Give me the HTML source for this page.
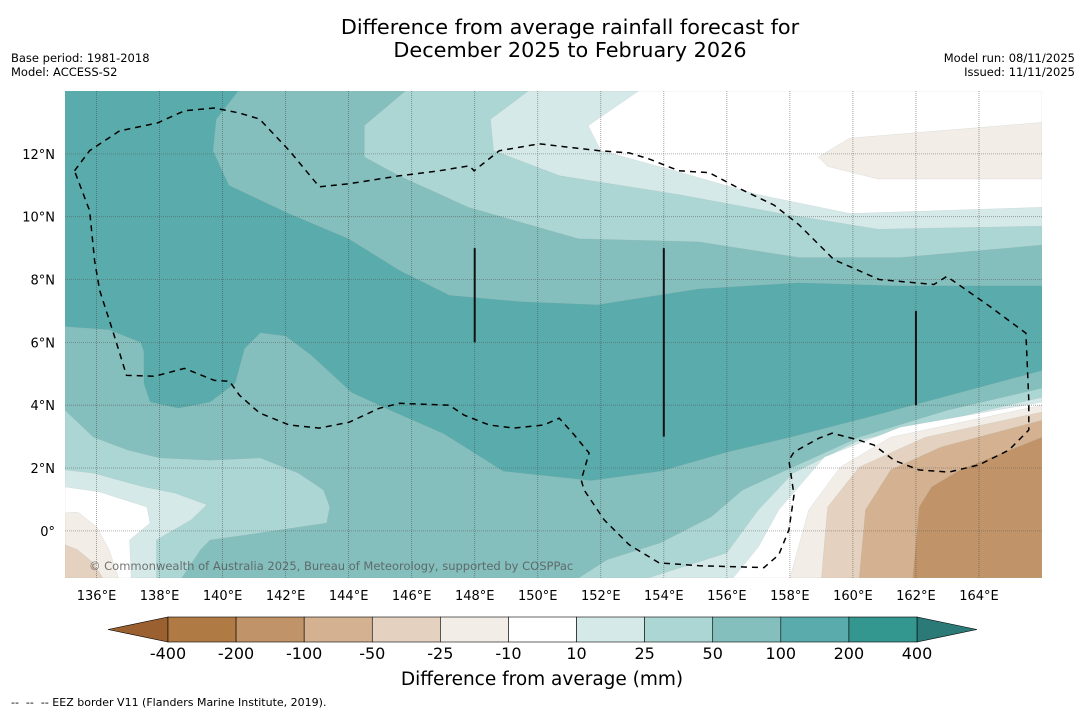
<!DOCTYPE html>
<html><head><meta charset="utf-8"><style>
body{margin:0;background:#fff;width:1085px;height:713px;overflow:hidden;font-family:"Liberation Sans","DejaVu Sans",sans-serif}
svg text{font-family:"DejaVu Sans","Liberation Sans",sans-serif}
</style></head><body>
<svg id="chart" width="1085" height="713" viewBox="0 0 1085 713" xmlns="http://www.w3.org/2000/svg">
<text x="570" y="34" font-size="20.8" text-anchor="middle">Difference from average rainfall forecast for</text>
<text x="570" y="57" font-size="20.8" text-anchor="middle">December 2025 to February 2026</text>
<text x="11" y="62" font-size="11.5">Base period: 1981-2018</text>
<text x="11" y="76" font-size="11.5">Model: ACCESS-S2</text>
<text x="1075" y="62" font-size="11.5" text-anchor="end">Model run: 08/11/2025</text>
<text x="1075" y="76" font-size="11.5" text-anchor="end">Issued: 11/11/2025</text>
<defs><clipPath id="mapclip"><rect x="65" y="91" width="977" height="487"/></clipPath></defs>
<g id="map" clip-path="url(#mapclip)"></g>
<g id="axes"></g>
<g id="cbar"></g>
<text x="542" y="685" font-size="18.5" text-anchor="middle">Difference from average (mm)</text>
<text x="11" y="706" font-size="11" xml:space="preserve">--  --  -- EEZ border V11 (Flanders Marine Institute, 2019).</text>
</svg>
<script>
// Map extent & colour levels
const lonRange=[135,166];
const latRange=[-1.5,14];
const levels=["-400","-200","-100","-50","-25","-10","10","25","50","100","200","400"];
const bandColors=["#b07a45","#c09468","#d4b291","#e5d1bf","#f2ede6","#ffffff","#d5e9e8","#acd6d4","#84bfbd","#5aabab","#33968f"];
const lonTicks=[136,138,140,142,144,146,148,150,152,154,156,158,160,162,164];
const latTicks=[0,2,4,6,8,10,12];
// Contour regions (lon,lat) with band index, painted in order
const baseBand=9;
const regionBands=[8,7,6,5,4,8,7,6,5,4,3,7,6,5,4,3,2,1];
const regionShapes=[
[[140.5,14],[139.8,13.1],[139.7,12.1],[140.2,11],[142.1,10.1],[144,9.3],[145.6,8.3],[147.2,7.5],[149.4,7.3],[151.9,7.2],[155.1,7.7],[158.3,7.9],[161.5,7.8],[166,7.8],[166,14]],
[[145.8,14],[144.5,12.9],[144.5,11.9],[145.6,11.3],[147.8,10.3],[151.3,9.3],[155.1,9.2],[158.3,8.7],[161.5,8.7],[166,9.1],[166,14]],
[[149.7,14],[148.5,13.1],[148.6,12.1],[150.7,11.3],[154.5,10.7],[157.7,10.1],[160.8,9.6],[166,9.7],[166,14]],
[[153.2,14],[151.6,12.9],[152,12.1],[154.2,11.5],[157,10.7],[159.9,10.1],[166,10.3],[166,14]],
[[158.9,11.9],[159.9,12.5],[166,13],[166,11.2],[160.8,11.2],[159.2,11.6]],
[[135,6.5],[136.4,6.4],[137.4,6.0],[137.5,5.7],[137.5,4.7],[137.7,4.1],[138.6,3.9],[139.6,4.1],[140.4,4.7],[140.7,5.8],[141.2,6.3],[142,6.2],[142.8,5.6],[144.1,4.4],[145.4,3.8],[147,3.1],[147.8,2.6],[148.9,1.9],[151.7,1.6],[153.9,1.9],[156,2.5],[158.1,3.0],[160.8,3.7],[166,5.1],[166,-1.5],[135,-1.5]],
[[135,3.84],[135.9,2.98],[137,2.57],[138,2.32],[139.6,2.25],[141.2,2.32],[142.4,1.84],[143.2,1.3],[143.4,0.76],[143.3,0.25],[141.2,-0.06],[139.6,-0.29],[139.3,-0.6],[138.7,-1.5],[135,-1.5]],
[[135,1.94],[135.9,1.84],[137.5,1.4],[138.5,1.2],[139.5,0.83],[139,0.35],[137.9,-0.29],[137.9,-1.5],[135,-1.5]],
[[135,1.4],[136.1,1.24],[137.6,0.76],[137.7,0.25],[137.05,-0.29],[137.1,-1.5],[135,-1.5]],
[[135,0.57],[135.4,0.6],[136,0.13],[136.4,-0.6],[136.7,-1.5],[135,-1.5]],
[[135,-0.44],[135.4,-0.6],[135.9,-1.02],[136.2,-1.5],[135,-1.5]],
[[151.3,-1.5],[152.2,-0.92],[153.9,-0.38],[155.5,0.44],[156.5,1.3],[158.1,2.03],[160.2,2.98],[163,3.84],[166,4.54],[166,-1.5]],
[[153.5,-1.5],[156,-0.7],[157,0.67],[158.1,1.84],[160.2,2.89],[166,4.25],[166,-1.5]],
[[156.2,-1.5],[157,-0.51],[157.65,0.67],[159.1,2.35],[161.5,3.3],[166,4.1],[166,-1.5]],
[[158,-1.5],[158.6,0.67],[159.6,2.03],[161.2,2.98],[166,4.0],[166,-1.5]],
[[159,-1.5],[159.2,0.76],[160.2,2.03],[162.3,2.98],[166,3.78],[166,-1.5]],
[[160.2,-1.5],[160.4,0.67],[161.2,1.94],[162.8,2.67],[166,3.52],[166,-1.5]],
[[161.9,-1.5],[162.1,0.76],[162.5,1.4],[163.4,1.94],[166,2.98],[166,-1.5]]
];
const eezLine=[[135.3,11.46],[135.78,12.1],[136.73,12.73],[137.93,12.98],[138.79,13.37],[139.74,13.46],[140.53,13.3],[141.17,13.11],[142.12,12.1],[143.07,10.95],[144.02,11.05],[145.61,11.3],[146.87,11.46],[147.83,11.62],[147.98,11.46],[148.78,12.1],[150.05,12.32],[151.16,12.19],[151.95,12.1],[152.9,12.03],[153.53,11.84],[154.48,11.46],[155.44,11.4],[156.39,10.9],[157.5,10.37],[158.29,9.74],[159.4,8.63],[160.83,8.0],[162.57,7.84],[162.98,8.1],[164.31,7.17],[165.49,6.29],[165.58,4.16],[165.58,3.21],[164.95,2.57],[164.0,2.1],[163.04,1.87],[162.09,1.94],[161.3,2.25],[160.67,2.73],[160.19,2.89],[159.34,3.11],[158.92,2.95],[158.13,2.51],[157.97,2.25],[158.13,1.14],[157.97,0.03],[157.65,-0.76],[157.18,-1.17],[155.12,-1.11],[153.85,-1.02],[152.9,-0.44],[152.11,0.35],[151.47,1.3],[151.38,1.62],[151.63,2.48],[151.47,2.67],[151.16,3.05],[150.68,3.59],[150.2,3.37],[149.25,3.27],[148.46,3.37],[147.67,3.68],[147.19,4.0],[145.61,4.06],[144.97,3.9],[144.02,3.46],[143.07,3.27],[142.12,3.37],[141.17,3.75],[140.53,4.32],[140.22,4.76],[139.74,4.79],[138.79,5.17],[137.84,4.92],[136.95,4.95],[136.51,6.38],[136.1,7.65],[135.94,8.6],[135.78,10.19],[135.3,11.46]];
const boundarySegments=[[148,9,6],[154,9,3],[162,7,4]];

const NS="http://www.w3.org/2000/svg";
const X0=65,X1=1042,Y0=91,Y1=578;
function xs(lon){return X0+(lon-lonRange[0])/(lonRange[1]-lonRange[0])*(X1-X0);}
function ys(lat){return Y1-(lat-latRange[0])/(latRange[1]-latRange[0])*(Y1-Y0);}
function el(t,a,p){const e=document.createElementNS(NS,t);for(const k in a)e.setAttribute(k,a[k]);p.appendChild(e);return e;}
const map=document.getElementById('map');
const bg=el('rect',{x:X0,y:Y0,width:X1-X0,height:Y1-Y0,fill:bandColors[baseBand]},map);


regionShapes.forEach((s,i)=>{
  const p=el('polygon',{points:s.map(q=>xs(q[0]).toFixed(1)+','+ys(q[1]).toFixed(1)).join(' '),fill:bandColors[regionBands[i]],stroke:'#9aa',"stroke-width":0.3,"stroke-opacity":0.5},map);
  
  
});
// grid
lonTicks.forEach(l=>{const g=el('line',{x1:xs(l),x2:xs(l),y1:Y0,y2:Y1,stroke:'#444',"stroke-width":0.8,"stroke-dasharray":"1,1","stroke-opacity":0.6},map);
  
  });
latTicks.forEach(l=>{const g=el('line',{x1:X0,x2:X1,y1:ys(l),y2:ys(l),stroke:'#555',"stroke-width":0.8,"stroke-dasharray":"1,1","stroke-opacity":0.6},map);
  
  });
const eez=el('polyline',{points:eezLine.map(q=>xs(q[0]).toFixed(1)+','+ys(q[1]).toFixed(1)).join(' '),fill:'none',stroke:'#000',"stroke-width":1.5,"stroke-dasharray":"6,5"},map);


boundarySegments.forEach(b=>{const l=el('line',{x1:xs(b[0]),x2:xs(b[0]),y1:ys(b[1]),y2:ys(b[2]),stroke:'#111',"stroke-width":2},map);
  
  });
const cp=el('text',{x:89,y:570,"font-size":11.5,fill:'#555',"fill-opacity":0.8},map);
cp.textContent='© Commonwealth of Australia 2025, Bureau of Meteorology, supported by COSPPac';


// axes labels
const axes=document.getElementById('axes');
lonTicks.forEach(l=>{const t=el('text',{x:xs(l),y:600,"font-size":13,"text-anchor":"middle"},axes);t.textContent=l+'°E';
  
  });
latTicks.forEach(l=>{const t=el('text',{x:55,y:ys(l)+5,"font-size":13,"text-anchor":"end"},axes);t.textContent=l===0?'0°':l+'°N';
  
  });
// colorbar
const cb=document.getElementById('cbar');
const CX0=168,CX1=917,CY=617,CH=25,bw=(CX1-CX0)/bandColors.length;
const lt=el('polygon',{points:`108,${CY+CH/2} ${CX0},${CY} ${CX0},${CY+CH}`,fill:'#9a6030',stroke:'#000',"stroke-width":0.6},cb);


const rt=el('polygon',{points:`977,${CY+CH/2} ${CX1},${CY} ${CX1},${CY+CH}`,fill:'#2b7a77',stroke:'#000',"stroke-width":0.6},cb);


bandColors.forEach((c,i)=>{const r=el('rect',{x:CX0+i*bw,y:CY,width:bw,height:CH,fill:c,stroke:'#000',"stroke-width":0.6},cb);
  
  });
levels.forEach((s,i)=>{const t=el('text',{x:CX0+i*bw,y:CY+CH+17,"font-size":16,"text-anchor":"middle"},cb);t.textContent=s;
  
  });
</script>
</body></html>
